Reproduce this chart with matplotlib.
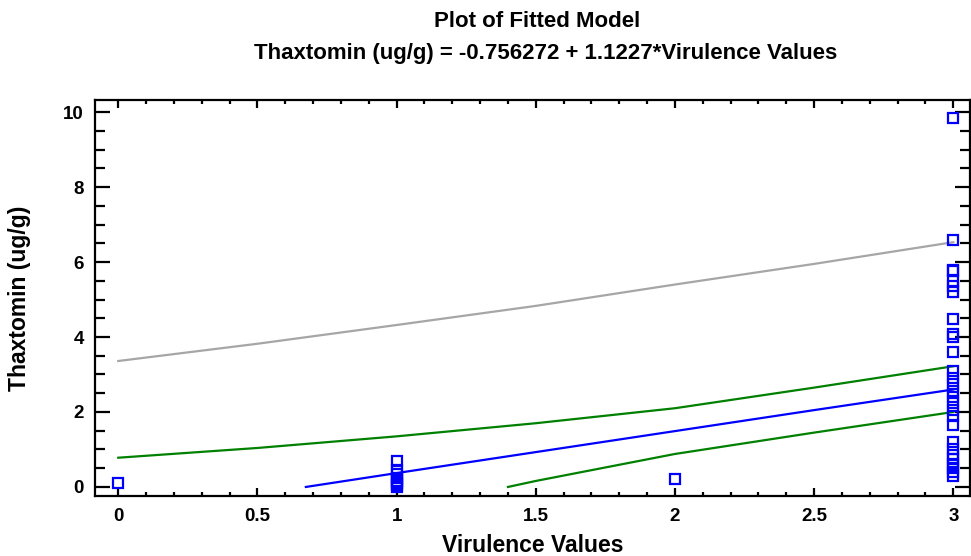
import matplotlib.pyplot as plt
import numpy as np
from matplotlib.ticker import MultipleLocator

plt.rcParams['font.family'] = ['Liberation Sans', 'DejaVu Sans']

# observed data
x_obs = [0,
         1, 1, 1, 1, 1, 1, 1, 1,
         2,
         3, 3, 3, 3, 3, 3, 3, 3, 3, 3, 3, 3, 3, 3, 3, 3, 3, 3, 3, 3, 3, 3, 3, 3, 3, 3, 3, 3]
y_obs = [0.1,
         0.68, 0.45, 0.35, 0.25, 0.15, 0.1, 0.05, 0.0,
         0.22,
         9.83, 6.6, 5.8, 5.75, 5.5, 5.35, 5.2, 4.47, 4.08, 4.0, 3.6, 3.1, 2.9, 2.75,
         2.55, 2.4, 2.25, 2.05, 1.9, 1.65, 1.2, 1.0, 0.85, 0.75, 0.6, 0.5, 0.4, 0.3]

# fitted line and limits
fit_x = [0.674, 1.0, 1.5, 2.0, 2.5, 3.0]
fit_y = [0.0, 0.37, 0.93, 1.49, 2.05, 2.6]
conf_up_x = [0.0, 0.5, 1.0, 1.5, 2.0, 2.5, 3.0]
conf_up_y = [0.78, 1.04, 1.35, 1.7, 2.1, 2.65, 3.22]
conf_lo_x = [1.4, 1.5, 2.0, 2.5, 3.0]
conf_lo_y = [0.0, 0.16, 0.88, 1.45, 2.0]
pred_up_x = [0.0, 0.5, 1.0, 1.5, 2.0, 2.5, 3.0]
pred_up_y = [3.36, 3.82, 4.32, 4.83, 5.4, 5.95, 6.53]

fig = plt.figure(figsize=(9.71, 5.56), dpi=100)
ax = fig.add_axes([0.098, 0.108, 0.901, 0.712])

ax.plot(pred_up_x, pred_up_y, color='#a6a6a6', lw=1.6)
ax.plot(conf_up_x, conf_up_y, color='#008000', lw=1.6)
ax.plot(conf_lo_x, conf_lo_y, color='#008000', lw=1.6)
ax.plot(fit_x, fit_y, color='#0000ff', lw=1.6)
ax.plot(x_obs, y_obs, 's', ms=7, mfc='none', mec='#0000ff', mew=1.6, clip_on=False)

ax.set_xlim(-0.083, 3.06)
ax.set_ylim(-0.24, 10.32)
ax.xaxis.set_major_locator(MultipleLocator(0.5))
ax.xaxis.set_minor_locator(MultipleLocator(0.1))
ax.yaxis.set_major_locator(MultipleLocator(2))
ax.yaxis.set_minor_locator(MultipleLocator(0.5))
ax.tick_params(which='both', direction='in', top=True, right=True, width=1.6)
ax.tick_params(axis='x', which='major', length=6, labelsize=13.5, pad=9)
ax.tick_params(axis='x', which='minor', length=3)
ax.tick_params(axis='y', which='major', length=11, labelsize=13.5, pad=8)
ax.tick_params(axis='y', which='minor', length=7)
ax.set_xticks([0, 0.5, 1, 1.5, 2, 2.5, 3])
ax.set_xticklabels(['0', '0.5', '1', '1.5', '2', '2.5', '3'], fontweight='bold')
ax.set_yticks([0, 2, 4, 6, 8, 10])
ax.set_yticklabels(['0', '2', '4', '6', '8', '10'], fontweight='bold')
for s in ax.spines.values():
    s.set_linewidth(1.6)

ax.set_xlabel('Virulence Values', fontsize=16.5, fontweight='bold', labelpad=6)
ax.set_ylabel('Thaxtomin (ug/g)', fontsize=16.5, fontweight='bold', labelpad=23)
fig.text(0.553, 0.962, 'Plot of Fitted Model', ha='center', va='center',
         fontsize=16, fontweight='bold')
fig.text(0.562, 0.903, 'Thaxtomin (ug/g) = -0.756272 + 1.1227*Virulence Values',
         ha='center', va='center', fontsize=16, fontweight='bold')

fig.savefig('out.png', dpi=100)
